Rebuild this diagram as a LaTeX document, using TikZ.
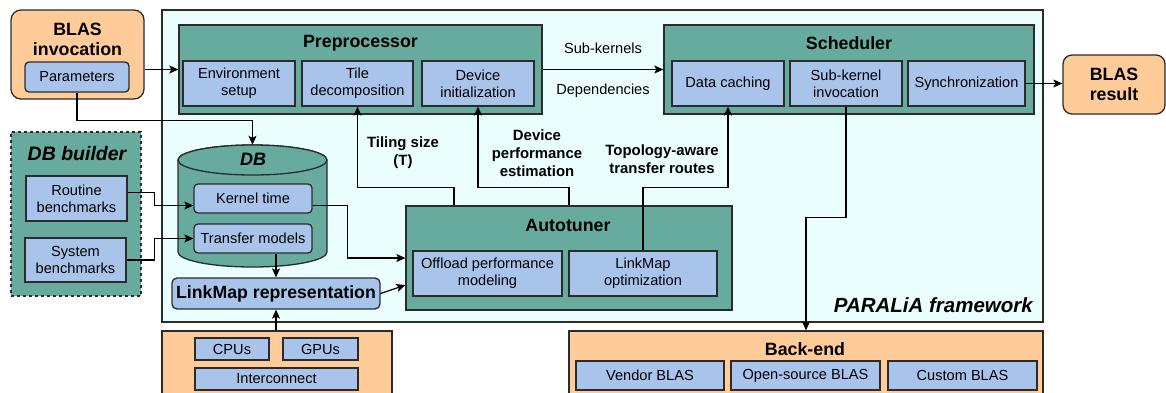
\documentclass[tikz,border=0pt]{standalone}
\usepackage{fontspec}
\setmainfont{Liberation Sans}
\usetikzlibrary{arrows.meta,calc}
\definecolor{tealbox}{HTML}{67AB9F}
\definecolor{subblue}{HTML}{A9C4EB}
\definecolor{peach}{HTML}{FFCC99}
\definecolor{framefill}{HTML}{EBFEFE}
\definecolor{edge}{HTML}{2B2B2B}
\begin{document}
\begin{tikzpicture}[x=1pt,y=-1pt,
  every node/.style={font=\fontsize{14.6}{17}\selectfont, text=black, inner sep=0pt, align=center},
  sub/.style={draw=edge, fill=subblue, line width=1.3pt},
  grp/.style={draw=edge, fill=tealbox, line width=1.3pt},
  ext/.style={draw=edge, fill=peach, line width=1.3pt},
  ttl/.style={font=\fontsize{17.8}{20}\selectfont\bfseries},
  ittl/.style={font=\fontsize{19.5}{21}\selectfont\bfseries\itshape},
  lbl/.style={font=\fontsize{14.9}{18}\selectfont\bfseries},
  arr/.style={draw=black, line width=1.2pt, -{Stealth[length=9pt,width=8pt,inset=2pt]}},
]
\clip (0,0) rectangle (1166,392);
\fill[white] (0,0) rectangle (1166,392);

% framework container
\node[draw=edge, fill=framefill, line width=1.3pt, minimum width=881pt, minimum height=312pt] (fw) at (602.5,166) {};
\node[font=\fontsize{20.5}{22}\selectfont\bfseries\itshape, anchor=east] (fwname) at (1033,305) {PARALiA framework};

% BLAS invocation
\node[ext, rounded corners=10pt, minimum width=133pt, minimum height=89pt] (inv) at (77.5,54.5) {};
\node[ttl] (invt) at (77.5,39) {BLAS\\invocation};
\node[sub, rounded corners=4pt, minimum width=104pt, minimum height=30pt] (params) at (77,77) {Parameters};

% BLAS result
\node[ext, rounded corners=9pt, minimum width=102pt, minimum height=59pt, ttl] (res) at (1114,84.5) {BLAS\\result};

% Preprocessor
\node[grp, minimum width=363pt, minimum height=89pt] (pre) at (360.5,69.5) {};
\node[ttl] (pret) at (360.5,43) {Preprocessor};
\node[sub, minimum width=112pt, minimum height=45pt] (env) at (239,83.5) {Environment\\setup};
\node[sub, minimum width=111pt, minimum height=45pt] (tile) at (357.5,83.5) {Tile\\decomposition};
\node[sub, minimum width=112pt, minimum height=45pt] (devinit) at (478,83.5) {Device\\initialization};

% Scheduler
\node[grp, minimum width=370pt, minimum height=89pt] (sched) at (849,69.5) {};
\node[ttl] (schedt) at (849,43) {Scheduler};
\node[sub, minimum width=112pt, minimum height=45pt] (cache) at (728,83.5) {Data caching};
\node[sub, minimum width=112pt, minimum height=45pt] (subinv) at (846,83.5) {Sub-kernel\\invocation};
\node[sub, minimum width=117pt, minimum height=45pt] (sync) at (966.5,83.5) {Synchronization};

% DB builder
\node[grp, dashed, minimum width=130pt, minimum height=164pt] (dbb) at (76,214) {};
\node[ittl] (dbbt) at (77,154) {DB builder};
\node[sub, minimum width=101pt, minimum height=45pt] (rout) at (76.5,198.5) {Routine\\benchmarks};
\node[sub, minimum width=101pt, minimum height=44pt] (sys) at (75.5,260) {System\\benchmarks};

% DB cylinder
\node[minimum width=149pt, minimum height=122pt] (db) at (252.5,206) {};
\draw[draw=edge, fill=tealbox, line width=1.3pt] (178,160) -- (178,252)
  arc[start angle=180, end angle=360, x radius=74.5pt, y radius=15pt] -- (327,160)
  arc[start angle=0, end angle=180, x radius=74.5pt, y radius=15pt] -- cycle;
\draw[draw=edge, fill=tealbox, line width=1.3pt] (252.5,160) ellipse[x radius=74.5pt, y radius=15pt];
\node[font=\fontsize{18}{20}\selectfont\bfseries\itshape] (dbt) at (253,159) {DB};
\node[sub, rounded corners=4pt, minimum width=118pt, minimum height=29pt] (kt) at (253,198.5) {Kernel time};
\node[sub, rounded corners=4pt, minimum width=118pt, minimum height=29pt] (tm) at (253,238.5) {Transfer models};

% LinkMap representation
\node[sub, rounded corners=5pt, minimum width=208pt, minimum height=31pt, font=\fontsize{17.7}{20}\selectfont\bfseries] (lm) at (276,293.5) {LinkMap representation};

% Autotuner
\node[grp, minimum width=326pt, minimum height=104pt] (auto) at (569,258) {};
\node[ttl] (autot) at (568,225) {Autotuner};
\node[sub, minimum width=149pt, minimum height=45pt] (offl) at (487.5,273.5) {Offload performance\\modeling};
\node[sub, minimum width=148pt, minimum height=45pt] (lmopt) at (643,273.5) {LinkMap\\optimization};

% hardware
\node[ext, minimum width=230pt, minimum height=79pt] (hw) at (277,370.5) {};
\node[sub, minimum width=74pt, minimum height=22pt] (cpu) at (232,349) {CPUs};
\node[sub, minimum width=75pt, minimum height=22pt] (gpu) at (320.5,349) {GPUs};
\node[sub, minimum width=163pt, minimum height=22pt] (ic) at (276.5,379) {Interconnect};

% back-end
\node[ext, minimum width=474pt, minimum height=79pt] (be) at (806,370.5) {};
\node[ttl] (bet) at (805,349) {Back-end};
\node[sub, minimum width=148pt, minimum height=29pt] (vend) at (650,375.5) {Vendor BLAS};
\node[sub, minimum width=149pt, minimum height=29pt] (open) at (805.5,375.5) {Open-source BLAS};
\node[sub, minimum width=149pt, minimum height=29pt] (cust) at (962.5,375.5) {Custom BLAS};

% connectors
\draw[arr] (inv.east |- pre.west) -- (pre.west);
\draw[arr] (pre.east) -- (sched.west)
  node[pos=0.5, above=15pt] (subk) {Sub-kernels}
  node[pos=0.5, below=14pt] (deps) {Dependencies};
\draw[arr] (sync.east) -- (sync.east -| res.west);
\draw[arr] (params.south) -- ++(0,28) -| (db.north);
\draw[arr] ([yshift=6pt]rout.east) -- ++(27,0) |- ([yshift=-7pt]kt.west);
\draw[arr] (sys.east) -- ++(28,0) |- (tm.west);
\draw[arr] ([yshift=-7pt]kt.east) -- ++(35,0) |- (auto.west);
\draw[arr] (tm.south -| lm.north) -- (lm.north);
\draw[arr] (lm.east) -- ([yshift=-27pt]auto.west);
\draw[arr] (lm.south |- hw.north) -- (lm.south);
\draw[arr] ([xshift=-115pt]auto.north) -- ++(0,-18) -| (tile.south);
\draw[arr] (auto.north) -- ++(0,-18) -| (devinit.south);
\draw[arr] (lmopt.north) -- ++(0,-63) -| (cache.south);
\draw[arr] (subinv.south) -- ++(0,111) -| (be.north);

% connector labels
\node[lbl] (tsz) at (403,153) {Tiling size\\(T)};
\node[lbl] (dpe) at (537,153) {Device\\performance\\estimation};
\node[lbl] (tat) at (662,159) {Topology-aware\\transfer routes};
\end{tikzpicture}
\end{document}
